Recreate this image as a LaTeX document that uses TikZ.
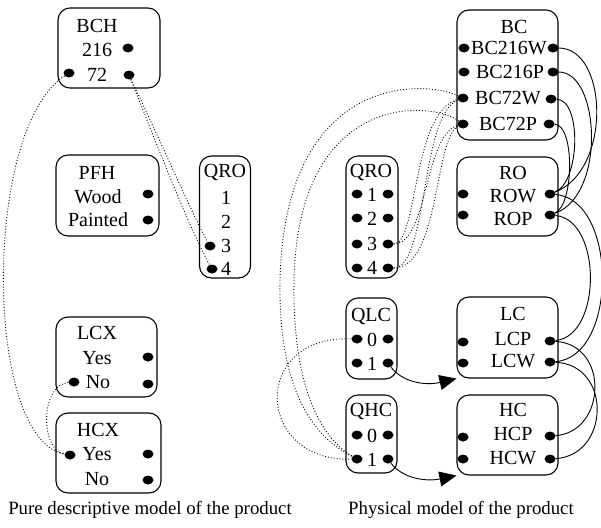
\documentclass[tikz,border=0pt]{standalone}
\usepackage{fontspec}
\setmainfont{Liberation Serif}
\newfontfamily\tnrfont{Liberation Serif}
\usetikzlibrary{shapes.geometric,arrows.meta}
\begin{document}
\begin{tikzpicture}[x=1pt,y=-1pt,
  box/.style={draw, rounded corners=12pt, line width=1.1pt, inner sep=0pt},
  pdot/.style={ellipse, fill=black, inner sep=0pt, minimum width=11pt, minimum height=9pt},
  lbl/.style={inner sep=0pt, font=\tnrfont\fontsize{20}{22}\selectfont},
  captext/.style={inner sep=0pt, font=\tnrfont\fontsize{18.8}{22}\selectfont},
  dotl/.style={dotted, line width=0.9pt},
  sol/.style={line width=0.9pt},
  arr/.style={line width=0.9pt, -{Triangle[length=17pt,width=15pt]}}]
\useasboundingbox (0,0) rectangle (601,527);
% ---------- left: pure descriptive model ----------
\node[box, minimum width=102pt, minimum height=80pt] (bch) at (109,48) {};
\node[lbl] (bcht) at (97,26) {BCH};
\node[lbl] (bch216) at (97,50) {216};
\node[lbl] (bch72) at (97,75) {72};
\node[pdot] (bch216r) at (128,48) {};
\node[pdot] (bch72l) at (69,73) {};
\node[pdot] (bch72r) at (129,75) {};

\node[box, minimum width=103pt, minimum height=81pt] (pfh) at (107.5,195.5) {};
\node[lbl] (pfht) at (97,173) {PFH};
\node[lbl] (pfhw) at (98,197) {Wood};
\node[lbl] (pfhp) at (98,220) {Painted};
\node[pdot] (pfhWr) at (148,194) {};
\node[pdot] (pfhPr) at (148,220) {};

\node[box, minimum width=51pt, minimum height=122pt] (qroL) at (225,217) {};
\node[lbl] (qroLt) at (225,172) {QRO};
\node[lbl] (qroL1) at (226,198) {1};
\node[lbl] (qroL2) at (226,222) {2};
\node[lbl] (qroL3) at (226,246) {3};
\node[lbl] (qroL4) at (226,269) {4};
\node[pdot] (qroL3l) at (210,246) {};
\node[pdot] (qroL4l) at (212,269) {};

\node[box, minimum width=101pt, minimum height=80pt] (lcx) at (106.5,357) {};
\node[lbl] (lcxt) at (97,333) {LCX};
\node[lbl] (lcxy) at (97,358) {Yes};
\node[lbl] (lcxn) at (98,382) {No};
\node[pdot] (lcxYr) at (148,357) {};
\node[pdot] (lcxNl) at (74,382) {};
\node[pdot] (lcxNr) at (148,384) {};

\node[box, minimum width=105pt, minimum height=80pt] (hcx) at (108.5,453) {};
\node[lbl] (hcxt) at (98,430) {HCX};
\node[lbl] (hcxy) at (97,454) {Yes};
\node[lbl] (hcxn) at (97,479) {No};
\node[pdot] (hcxYl) at (70,455) {};
\node[pdot] (hcxYr) at (148,454) {};
\node[pdot] (hcxNr) at (148,480) {};

\node[captext] (capL) at (150,510) {Pure descriptive model of the product};

% ---------- right: physical model ----------
\node[box, minimum width=101pt, minimum height=130pt] (bc) at (507.5,75) {};
\node[lbl] (bct) at (514,27) {BC};
\node[lbl] (bc1) at (509,48) {BC216W};
\node[lbl] (bc2) at (510,72) {BC216P};
\node[lbl] (bc3) at (508,98) {BC72W};
\node[lbl] (bc4) at (508,124) {BC72P};
\node[pdot] (bcl1) at (464,48) {};
\node[pdot] (bcr1) at (553,48) {};
\node[pdot] (bcl2) at (464,72) {};
\node[pdot] (bcr2) at (553,72) {};
\node[pdot] (bcl3) at (463,98) {};
\node[pdot] (bcr3) at (551,99) {};
\node[pdot] (bcl4) at (463,124) {};
\node[pdot] (bcr4) at (549,124) {};

\node[box, minimum width=101pt, minimum height=79pt] (ro) at (507.5,196.5) {};
\node[lbl] (rot) at (513,173) {RO};
\node[lbl] (ro1) at (513,196) {ROW};
\node[lbl] (ro2) at (513,219) {ROP};
\node[pdot] (rol1) at (463,194) {};
\node[pdot] (ror1) at (550,194) {};
\node[pdot] (rol2) at (463,215) {};
\node[pdot] (ror2) at (550,215) {};

\node[box, minimum width=52pt, minimum height=122pt] (qroR) at (372,217) {};
\node[lbl] (qroRt) at (371,172) {QRO};
\node[lbl] (qroR1) at (372,195) {1};
\node[lbl] (qroR2) at (372,219) {2};
\node[lbl] (qroR3) at (372,244) {3};
\node[lbl] (qroR4) at (372,268) {4};
\foreach \i/\y in {1/194,2/218,3/244,4/268}{
  \node[pdot] (qroRl\i) at (357,\y) {};
  \node[pdot] (qroRr\i) at (388,\y) {};
}

\node[box, minimum width=51pt, minimum height=81pt] (qlc) at (371.5,338.5) {};
\node[lbl] (qlct) at (371,316) {QLC};
\node[lbl] (qlc0) at (372,340) {0};
\node[lbl] (qlc1) at (372,364) {1};
\node[pdot] (qlcl0) at (357,339) {};
\node[pdot] (qlcr0) at (388,339) {};
\node[pdot] (qlcl1) at (357,363) {};
\node[pdot] (qlcr1) at (388,363) {};

\node[box, minimum width=51pt, minimum height=78pt] (qhc) at (371.5,434) {};
\node[lbl] (qhct) at (371,411) {QHC};
\node[lbl] (qhc0) at (372,436) {0};
\node[lbl] (qhc1) at (372,460) {1};
\node[pdot] (qhcl0) at (357,435) {};
\node[pdot] (qhcr0) at (388,435) {};
\node[pdot] (qhcl1) at (357,459) {};
\node[pdot] (qhcr1) at (388,459) {};

\node[box, minimum width=101pt, minimum height=81pt] (lc) at (507.5,337.5) {};
\node[lbl] (lct) at (513,314) {LC};
\node[lbl] (lc1) at (513,339) {LCP};
\node[lbl] (lc2) at (513,361) {LCW};
\node[pdot] (lcl1) at (463,342) {};
\node[pdot] (lcr1) at (550,341) {};
\node[pdot] (lcl2) at (463,363) {};
\node[pdot] (lcr2) at (550,362) {};

\node[box, minimum width=101pt, minimum height=80pt] (hc) at (507.5,435) {};
\node[lbl] (hct) at (513,410) {HC};
\node[lbl] (hc1) at (513,434) {HCP};
\node[lbl] (hc2) at (513,458) {HCW};
\node[pdot] (hcl1) at (463,437) {};
\node[pdot] (hcr1) at (550,436) {};
\node[pdot] (hcl2) at (463,459) {};
\node[pdot] (hcr2) at (550,459) {};

\node[captext] (capR) at (461,510) {Physical model of the product};

% ---------- left dotted connectors ----------
\draw[dotl] (bch72r) .. controls (160,140) and (195,220) .. (qroL3l);
\draw[dotl] (bch72r) .. controls (155,140) and (190,230) .. (qroL4l);
\draw[dotl] (bch72l) .. controls (-18,130) and (-16,440) .. (hcxYl);
\draw[dotl] (lcxNl) .. controls (40,385) and (40,450) .. (hcxYl);

% ---------- right dotted connectors ----------
\draw[dotl] (qroRr3) .. controls (418,244) and (412,112) .. (bcl3);
\draw[dotl] (qroRr3) .. controls (428,244) and (424,135) .. (bcl4);
\draw[dotl] (qroRr4) .. controls (428,268) and (420,115) .. (bcl3);
\draw[dotl] (qroRr4) .. controls (440,268) and (434,138) .. (bcl4);
\draw[dotl] (bcl3) .. controls (425,80) and (285,72) .. (280,280)
  .. controls (278,400) and (320,440) .. (qhcl1);
\draw[dotl] (bcl4) .. controls (430,100) and (298,92) .. (294,280)
  .. controls (292,395) and (325,440) .. (qhcl1);
\draw[dotl] (qlcl0) .. controls (250,335) and (255,462) .. (qhcl1);

% ---------- right solid connectors ----------
\draw[sol] (bcr1) .. controls (608,48) and (612,170) .. (ror1);
\draw[sol] (bcr2) .. controls (600,72) and (606,195) .. (ror2);
\draw[sol] (bcr3) .. controls (582,100) and (580,182) .. (ror1);
\draw[sol] (bcr4) .. controls (575,125) and (574,205) .. (ror2);
\draw[sol] (ror1) .. controls (618,200) and (618,357) .. (lcr2);
\draw[sol] (ror2) .. controls (602,220) and (602,336) .. (lcr1);
\draw[sol] (lcr1) .. controls (610,345) and (606,432) .. (hcr1);
\draw[sol] (lcr2) .. controls (612,365) and (610,455) .. (hcr2);

% ---------- arrows ----------
\draw[arr] (qlcr1) .. controls (402,382) and (425,386) .. (lc.south west);
\draw[arr] (qhcr1) .. controls (402,478) and (425,482) .. (hc.south west);
\end{tikzpicture}
\end{document}
